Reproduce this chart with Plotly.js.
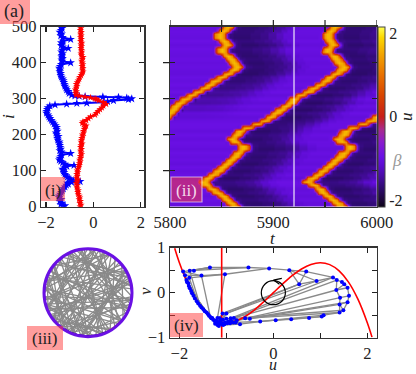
<!DOCTYPE html>
<html>
<head>
<meta charset="utf-8">
<script src="https://cdn.plot.ly/plotly-3.0.1.min.js"></script>
<style>html,body{margin:0;padding:0;background:#fff}</style>
</head>
<body>
<div id="plot" style="width:416px;height:374px"></div>
<script>
// panel (i): snapshot at t=5920
const iBlue = [0,3,6,10,15,20,25,30,35,40,45,50,55,60,63,66,68,70,72,75,78,82,86,90,95,100,104,108,112,115,118,122,126,130,135,140,144,148,152,156,160,165,170,175,180,185,190,195,200,205,210,215,220,225,230,235,240,245,250,255,260,265,270,275,280,283,285,287,288,290,292,295,298,300,302,304,305,306,307,308,310,315,320,325,330,335,340,345,350,355,360,365,370,375,380,385,390,395,400,404,408,412,416,420,425,430,435,440,444,448,452,456,460,465,470,475,480,485,490,495,500]
const uBlue = [-1.27,-1.2,-1.38,-1.33,-1.42,-1.36,-1.45,-1.44,-1.4,-1.36,-1.32,-1.27,-1.2,-1.14,-1.06,-1.1,-0.92,-0.56,-0.85,-0.95,-1.02,-1.1,-1.16,-1.2,-1.24,-1.27,-1.3,-1.22,-1.12,-0.82,-1.2,-1.3,-1.38,-1.44,-1.42,-1.38,-1.34,-0.96,-1.36,-1.42,-1.38,-1.4,-1.42,-1.44,-1.44,-1.5,-1.52,-1.48,-1.55,-1.58,-1.52,-1.56,-1.55,-1.6,-1.66,-1.72,-1.77,-1.83,-1.88,-1.92,-1.98,-1.98,-1.95,-1.92,-1.84,-1.62,-1.13,-0.7,-0.28,0.42,0.6,0.85,1.48,1.62,1.41,1.06,0.4,-0.35,-0.6,-0.78,-0.92,-1.02,-1.06,-1.13,-1.16,-1.2,-1.22,-1.25,-1.27,-1.3,-1.35,-1.38,-1.38,-1.42,-1.41,-1.44,-1.41,-1.36,-0.96,-1.32,-1.34,-1.3,-1.34,-1.33,-1.3,-1.35,-1.32,-1.06,-1.3,-1.36,-1.32,-1.36,-1.28,-0.96,-1.3,-1.38,-1.34,-1.42,-1.37,-1.32,-1.37]
const iRed = [0,5,10,15,20,25,30,35,40,45,50,55,60,65,70,75,80,85,90,95,100,105,110,115,120,125,130,135,140,145,150,155,160,165,170,175,180,185,190,195,200,205,210,215,220,225,228,232,236,240,245,250,255,260,265,270,275,280,285,290,295,298,300,303,305,308,310,315,320,325,330,335,340,345,350,355,360,365,370,375,380,385,390,395,400,405,410,415,420,425,430,435,440,445,450,455,460,465,470,475,480,485,490,495,500]
const uRed = [-0.56,-0.52,-0.57,-0.55,-0.6,-0.58,-0.6,-0.64,-0.66,-0.64,-0.68,-0.7,-0.68,-0.72,-0.7,-0.66,-0.71,-0.68,-0.7,-0.66,-0.68,-0.66,-0.62,-0.6,-0.59,-0.56,-0.58,-0.54,-0.55,-0.5,-0.52,-0.54,-0.5,-0.54,-0.52,-0.48,-0.52,-0.5,-0.49,-0.45,-0.46,-0.42,-0.42,-0.38,-0.36,-0.31,-0.4,-0.47,-0.44,-0.3,-0.21,-0.12,0.07,0.12,0.2,0.28,0.36,0.42,0.54,0.42,0.22,0.14,0.07,-0.12,-0.35,-0.6,-0.73,-0.74,-0.72,-0.76,-0.73,-0.7,-0.72,-0.68,-0.64,-0.6,-0.58,-0.52,-0.48,-0.44,-0.46,-0.44,-0.48,-0.45,-0.47,-0.5,-0.47,-0.44,-0.5,-0.52,-0.49,-0.5,-0.53,-0.5,-0.52,-0.49,-0.54,-0.51,-0.54,-0.52,-0.54,-0.51,-0.55,-0.53,-0.54]

// panel (ii): u(i,t), one row each 10 nodes, wave fronts
const rowIndex = [0,10,20,30,40,50,60,70,80,90,100,110,120,130,140,150,160,170,180,190,200,210,220,230,240,250,260,270,280,290,300,310,320,330,340,350,360,370,380,390,400,410,420,430,440,450,460,470,480,490,500]
const frontLeft = [null,null,null,null,null,null,null,null,null,null,null,null,null,null,null,null,null,null,null,null,null,null,null,null,null,5796,5800,5803,5806,5810,5815,5821,5827,5834,5839,5844,5850,5856,5862,5865,5862,5859,5856,5850,5850,5855,5852,5848,5848,5852,5856]
const frontMid = [5863,5859,5855,5851,5846,5841,5835,5833,5837,5842,5847,5851,5855,5859,5863,5866,5871,5871,5863,5860,5865,5868,5875,5884,5892,5898,5903,5907,5912,5917,5920,5927,5934,5939,5945,5951,5955,5961,5966,5968,5964,5961,5959,5952,5953,5958,5955,5953,5953,5956,5960]
const frontRight = [5966,5962,5958,5953,5948,5945,5939,5933,5938,5943,5948,5953,5957,5961,5965,5968,5974,5974,5966,5963,5968,5970,5977,5987,5995,6000,6006,null,null,null,null,null,null,null,null,null,null,null,null,null,null,null,null,null,null,null,null,null,null,null,null]
// how deep the dark wake behind the left front is, it fades out where that front leaves the window
const leftDepth = [0,0,0,0,0,0,0,0,0,0,0,0,0,0,0,0,0,0,0,0,0,0,0,0,0,0.1,0.2,0.3,0.4,0.5,0.6,0.68,0.76,0.84,0.9,0.95,1,1,1,1,1,1,1,1,1,1,1,1,1,1,1]
const rowBias = [0.02,-0.03,0.05,-0.04,0.03,-0.05,0.06,0.09,-0.06,0.05,-0.03,0.06,-0.05,0.03,-0.02,0.05,-0.04,0.02,0.04,-0.03,0.05,-0.05,0.03,0.04,0.01,-0.05,0.07,-0.06,0.05,-0.07,0.06,-0.05,0.07,-0.03,0.05,-0.02,0.04,-0.05,-0.02,0.02,-0.03,0.03,-0.02,0.01,0.05,-0.03,0.06,-0.02,0.01,0.02,-0.02]
const tAxis = []
for(let t=5800;t<=6000;t+=2) tAxis.push(t)
const waveOffset = [-100,-9,-8,-7,-6,-5,-4,-3,-2,-1,0,1,2,3,4,5,6,7,8,9,10,14,30,40,48,55,62,70,100]
const waveU = [-1.0,-1.0,-1.0,-0.9,-0.2,0.6,1.2,1.45,1.55,1.65,1.7,1.65,1.55,1.45,1.2,0.6,-0.2,-0.9,-1.3,-1.55,-1.62,-1.68,-1.62,-1.55,-1.42,-1.25,-1.1,-1.02,-1.0]
const cbU = [-2.16,-2,-1.7,-1.4,-1.15,-0.95,-0.6,-0.3,0,0.5,1,1.5,1.9,2.15]
const cbColor = ["#0c0418","#1c0638","#2e0a70","#4a0ca8","#5d0cd2","#6a10e4","#8a1ccc","#a82a8c","#c81e18","#d84400","#e87000","#f2a400","#fcd800","#ffff50"]
const cbTicks = [-2,0,2]
const cbText = ["-2","0","2"]
const tCut = 5920

// panel (iii): ring of 500 nodes, chords are the non-local links, angles in degrees
const chordFrom = [5,20,35,52,68,83,98,112,128,143,158,172,188,203,218,233,248,262,278,292,308,323,338,352,16,33,49,65,81,96,111,126,141,156,171,186,201,216,231,246,261,276,291,306,321,336,351,18,58,102,142,182,222,262,302,342,30,70,115,160,200,244,288,334,12,44,75,105,135,165,195,225,255,285,315,345,8,60,90,120,150,210,240,270]
const chordTo = [160,140,190,300,250,330,290,220,300,265,205,320,40,90,115,145,70,25,195,215,75,40,110,185,205,270,225,165,240,200,270,25,250,350,80,320,340,30,20,320,140,210,175,230,150,100,240,250,280,320,60,125,85,30,220,175,260,315,295,245,80,15,200,260,205,230,215,345,10,30,350,60,170,95,195,230,115,175,355,20,335,355,155,130]
const ringThetaDark = [237,245,255,265,275,285,297]
const ringThetaRedA = [297,300]
const ringThetaOrange = [300,304,308,313]
const ringThetaRedB = [313,316]

// panel (iv): phase plane, nodes at t=5920 and their links
const uNode = [-1.92,-1.78,-1.69,-1.35,-1.53,-1.03,-1.79,-0.53,-0.09,0.34,0.7,0.55,0.92,1.27,1.35,1.46,1.51,1.58,1.61,1.58,1.49,1.41,1.41,1.42,1.34,1.07,1.03,0.76,0.38,0.05,-0.28,-0.5,-0.6,-0.71,-0.84,-0.91,-1.0,-1.08,-0.85,-0.92,-1.88,-1.85,-1.81,-1.78,-1.73,-1.67,-1.6,-1.53,-1.46,-1.39,-1.34,-1.28,-1.22,-1.17,-1.1,-1.03,-0.96,-1.84,-1.8,-1.75,-1.7,-1.63,-1.56,-1.49,-1.42,-1.37,-1.32,-1.25,-1.19,-1.14,-1.07,-1.0,-1.14,-1.19,-0.78,-1.07,-1.19,-1.24,-1.12,-1.16,-1.1,-1.04,-0.98,-1.22,-1.15,-1.3,-0.9,-0.8]
const vNode = [0.47,0.49,0.49,0.56,0.38,0.41,0.33,0.56,0.54,0.5,0.47,0.19,0.26,0.34,0.28,0.24,0.19,0.11,-0.07,-0.21,-0.39,-0.44,-0.26,-0.11,0.06,-0.5,-0.53,-0.56,-0.59,-0.61,-0.64,-0.58,-0.57,-0.7,-0.56,-0.57,-0.46,-0.46,-0.66,-0.68,0.39,0.28,0.21,0.1,-0.01,-0.13,-0.24,-0.33,-0.41,-0.48,-0.54,-0.6,-0.66,-0.7,-0.68,-0.66,-0.64,0.24,0.15,0.04,-0.07,-0.19,-0.29,-0.37,-0.44,-0.51,-0.57,-0.63,-0.67,-0.64,-0.6,-0.58,-0.57,-0.56,-0.61,-0.72,-0.72,-0.69,-0.61,-0.74,-0.7,-0.7,-0.68,-0.62,-0.66,-0.56,-0.62,-0.66]
const linkFrom = [0,3,7,8,9,1,0,4,5,6,2,1,9,10,11,12,9,13,14,15,16,17,18,19,20,21,24,24,24,23,23,22,22,22,21,25,26,27,28,29,30,33,30,37,36,35,34,34,32,31,56,71,32,36,30,29,4,5,1,6,40,0,40,57,41,42,58,43,59,44,60,45,61,46,62,47,63,48,64,49,65,50,66,51,67,52,68,53,41,42,43,44,45,46,47,0,6,73,72,69,70,71,38,39,56,78,54,55,34,74,33,33,10,40,41,42,43,44,45,46]
const linkTo = [3,7,8,9,10,7,4,5,8,5,3,3,11,11,12,13,12,14,15,16,17,18,19,20,21,25,14,16,17,24,18,23,19,20,22,26,27,28,29,30,33,39,38,11,12,13,14,24,23,22,19,20,21,11,25,26,50,73,62,46,4,40,57,41,42,58,43,59,44,60,45,61,46,62,47,63,48,64,49,65,50,66,51,67,52,68,53,75,47,48,49,50,51,52,53,41,42,36,37,36,36,35,35,38,39,69,55,56,74,31,75,74,13,46,47,48,49,50,51,52]
const uCurve = [-2.1,-2,-1.8,-1.6,-1.4,-1.2,-1,-0.8,-0.6,-0.4,-0.2,0,0.2,0.4,0.6,0.8,1,1.2,1.4,1.6,1.8,2,2.1]
const vCurve = [0.987,0.667,0.144,-0.235,-0.485,-0.624,-0.667,-0.629,-0.528,-0.379,-0.197,0,0.197,0.379,0.528,0.629,0.667,0.624,0.485,0.235,-0.144,-0.667,-0.987]
const uBeta = [-1.1,-1.1]
const vBeta = [-1,1]

const W=416, H=374
const FONT="'Liberation Serif', serif"
const INK="#222222"
const px=x=>x/W
const py=y=>1-y/H

function waveAt(offset){
let k=0
for(let j=0;j<waveOffset.length;j++){ if(waveOffset[j]<=offset) k=j }
return waveU[k]
}

const zGrid = rowIndex.map((_,r)=>{
const fronts=[frontLeft[r],frontMid[r],frontRight[r]].filter(f=>f!==null)
return tAxis.map(t=>{
let before=null, near=null
fronts.forEach(f=>{
if(f<=t) before=f
if(Math.abs(t-f)<=9) near=f
})
// nothing earlier in the window: the medium is at rest there
const off = near!==null ? t-near : (before!==null ? t-before : -100)
let val = waveAt(off)
if(Math.abs(off)>9){
if(before===frontLeft[r]) val = -1+(val+1)*leftDepth[r]
val += rowBias[r]
}
return val
})
})

const chordTheta=[], chordR=[]
chordFrom.forEach((a,k)=>{
chordTheta.push(a,chordTo[k],null)
chordR.push(1,1,null)
})

const linkU=[], linkV=[]
linkFrom.forEach((a,k)=>{
const b=linkTo[k]
linkU.push(uNode[a],uNode[b],null)
linkV.push(vNode[a],vNode[b],null)
})

const colorscale = cbU.map((u,k)=>[(u-cbU[0])/(cbU[cbU.length-1]-cbU[0]),cbColor[k]])

const ringArc=(theta,color)=>({
type:"scatterpolar",subplot:"polar",mode:"lines",
theta:theta,r:theta.map(()=>1),
line:{color:color,width:3},hoverinfo:"skip"
})

const traces=[
{x:uBlue,y:iBlue,xaxis:"x",yaxis:"y",type:"scatter",mode:"lines+markers",
line:{color:"#0000ff",width:2},marker:{symbol:"star",size:6.5,color:"#0000ff"}},
{x:uRed,y:iRed,xaxis:"x",yaxis:"y",type:"scatter",mode:"lines+markers",
line:{color:"#ff0000",width:2.4},marker:{symbol:"star",size:5.5,color:"#ff0000"}},
{z:zGrid,x:tAxis,y:rowIndex,xaxis:"x2",yaxis:"y2",type:"heatmap",zsmooth:"best",
colorscale:colorscale,zmin:cbU[0],zmax:cbU[cbU.length-1],
colorbar:{x:px(378),xanchor:"left",xpad:0,ypad:0,y:py(116.7),yanchor:"middle",
thickness:7,thicknessmode:"pixels",len:180,lenmode:"pixels",
outlinecolor:"#444444",outlinewidth:1,ticks:"",
tickmode:"array",tickvals:cbTicks,ticktext:cbText,tickfont:{family:FONT,size:16,color:INK}}},
{type:"scatterpolar",subplot:"polar",mode:"lines",theta:chordTheta,r:chordR,
line:{color:"#8a8a8a",width:1.3},hoverinfo:"skip"},
ringArc(ringThetaDark,"#2c0a6a"),
ringArc(ringThetaRedA,"#c82020"),
ringArc(ringThetaOrange,"#f09000"),
ringArc(ringThetaRedB,"#c82020"),
{x:linkU,y:linkV,xaxis:"x3",yaxis:"y3",type:"scatter",mode:"lines",
line:{color:"#8a8a8a",width:1.3},hoverinfo:"skip"},
{x:uCurve,y:vCurve,xaxis:"x3",yaxis:"y3",type:"scatter",mode:"lines",
line:{color:"#ff0000",width:1.6,shape:"spline"}},
{x:uBeta,y:vBeta,xaxis:"x3",yaxis:"y3",type:"scatter",mode:"lines",
line:{color:"#ff0000",width:1.6}},
{x:uNode,y:vNode,xaxis:"x3",yaxis:"y3",type:"scatter",mode:"markers",
marker:{color:"#0000ff",size:4}}
]

const axisBase={
showline:true,linecolor:"#333333",linewidth:1.5,mirror:"ticks",
ticks:"inside",ticklen:5,tickwidth:1.2,tickcolor:"#222222",
showgrid:false,zeroline:false,
tickmode:"array",tickfont:{family:FONT,size:16.5,color:INK}
}

const labelBox=(x0,y0,x1,y1,extra)=>Object.assign({
type:"rect",xref:"paper",yref:"paper",layer:"above",
x0:px(x0),x1:px(x1),y0:py(y1),y1:py(y0),
fillcolor:"rgba(255,60,60,0.5)",line:{width:0}
},extra||{})

const note=(text,x,y,extra)=>Object.assign({
text:text,xref:"paper",yref:"paper",x:px(x),y:py(y),showarrow:false,
xanchor:"center",yanchor:"middle",font:{family:FONT,size:17,color:INK}
},extra||{})

// outward ticks of the heatmap, the frame only has inward ones
const outerTicks=[]
;[100,200,300,400].forEach(v=>outerTicks.push({type:"line",xref:"paper",yref:"y2",layer:"above",
x0:px(163),x1:px(170),y0:v,y1:v,line:{color:"#222222",width:1.2}}))
;[5800,5850,5900,5950,6000].forEach(v=>outerTicks.push({type:"line",xref:"x2",yref:"paper",layer:"above",
x0:v,x1:v,y0:py(26.7),y1:py(20),line:{color:"#222222",width:1.2}}))

const layout={
width:W,height:H,autosize:false,
margin:{l:0,r:0,t:0,b:0},
paper_bgcolor:"#ffffff",plot_bgcolor:"#ffffff",
showlegend:false,
font:{family:FONT,color:INK},
xaxis:Object.assign({},axisBase,{domain:[px(41.3),px(144.3)],anchor:"y",range:[-2.2,2.15],
tickvals:[-2,0,2],ticktext:["−2","0","2"]}),
yaxis:Object.assign({},axisBase,{domain:[py(206.7),py(26.7)],anchor:"x",range:[0,500],
tickvals:[0,100,200,300,400,500],ticktext:["0","100","200","300","400","500"]}),
xaxis2:Object.assign({},axisBase,{domain:[px(170),px(376.7)],anchor:"y2",range:[5800,6000],
tickvals:[5800,5850,5900,5950,6000],ticktext:["5800","","5900","","6000"]}),
yaxis2:Object.assign({},axisBase,{domain:[py(206.7),py(26.7)],anchor:"x2",range:[0,500],
tickvals:[100,200,300,400],ticktext:["","","",""]}),
xaxis3:Object.assign({},axisBase,{domain:[px(170),px(376.7)],anchor:"y3",range:[-2.2,2.2],
tickvals:[-2,-1,0,1,2],ticktext:["−2","","0","","2"]}),
yaxis3:Object.assign({},axisBase,{domain:[py(337.7),py(247.7)],anchor:"x3",range:[-1,1],
tickvals:[-1,-0.5,0,0.5,1],ticktext:["−1","","0","","1"]}),
polar:{
domain:{x:[px(44),px(132)],y:[py(336.7),py(248.7)]},
bgcolor:"rgba(0,0,0,0)",
radialaxis:{visible:false,showline:false,showticklabels:false,ticks:"",showgrid:false,range:[0,1]},
angularaxis:{showgrid:false,showticklabels:false,ticks:"",linecolor:"#6a10e4",linewidth:3}
},
shapes:[
{type:"line",xref:"x2",yref:"y2",layer:"above",x0:tCut,x1:tCut,y0:0,y1:500,
line:{color:"rgba(255,255,255,0.55)",width:2}},
{type:"circle",xref:"x3",yref:"y3",layer:"above",x0:-0.256,x1:0.256,y0:-0.267,y1:0.267,
line:{color:"#000000",width:1.2}},
{type:"path",xref:"x3",yref:"y3",layer:"above",path:"M 0 0.28 L 0.18 0.32 M 0.02 0.27 L 0.13 0.19",
line:{color:"#000000",width:1.2}},
labelBox(0,0,30,24),
labelBox(41,177,65,201),
labelBox(171,177,202,202,{line:{color:"rgba(255,255,255,0.6)",width:1.2}}),
labelBox(27,326,63,350),
labelBox(170,313,203,337)
].concat(outerTicks),
annotations:[
note("(a)",14,11,{font:{family:FONT,size:18,color:INK}}),
note("(i)",53,190),
note("(ii)",186.5,190,{font:{family:FONT,size:17,color:"#f4d8ec"}}),
note("(iii)",45,338),
note("(iv)",186.5,325),
note("<i>i</i>",9,117,{textangle:-90}),
note("<i>t</i>",273,238),
note("<i>u</i>",273,364,{font:{family:FONT,size:16,color:INK}}),
note("<i>v</i>",145,291,{textangle:-90}),
note("<i>β</i>",397,161,{font:{family:FONT,size:17,color:"#999999"}}),
note("<i>u</i>",407,117,{textangle:-90})
]
}

Plotly.newPlot("plot",traces,layout,{displayModeBar:false,staticPlot:true})
</script>
</body>
</html>
